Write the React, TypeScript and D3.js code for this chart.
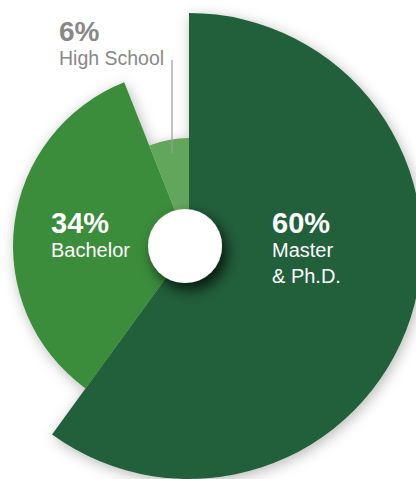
import React from "react";
import * as d3 from "d3";

const categories = ["Master & Ph.D.", "Bachelor", "High School"];
const values = [60, 34, 6];
const percentLabels = ["60%", "34%", "6%"];
const nameLines = [["Master", "& Ph.D."], ["Bachelor"], ["High School"]];

const W = 416;
const H = 479;
const CX = 189;
const CY = 246;
const OUTER = [233, 176, 108];
const COLORS = ["#225e3b", "#3a8c3a", "#62a65b"];

export default function App() {
  const pie = d3
    .pie<number>()
    .sort(null)
    .startAngle(0)
    .endAngle(2 * Math.PI)
    .value((d) => d);
  const arcs = pie(values);
  const arcGen = d3.arc<d3.PieArcDatum<number>>().innerRadius(0);

  const font = "'Liberation Sans', Arial, sans-serif";

  return (
    <svg
      width={W}
      height={H}
      style={{ position: "absolute", left: 0, top: 0, background: "#fff" }}
    >
      <defs>
        <filter id="sliceShadow" x="-20%" y="-20%" width="140%" height="140%">
          <feDropShadow dx="2" dy="3" stdDeviation="7" floodColor="#000" floodOpacity="0.28" />
        </filter>
        <filter id="holeShadow" x="-60%" y="-60%" width="220%" height="220%">
          <feDropShadow dx="5" dy="7" stdDeviation="7" floodColor="#000" floodOpacity="0.75" />
        </filter>
      </defs>
      <g transform={`translate(${CX},${CY})`} filter="url(#sliceShadow)">
        {arcs.map((a, i) => (
          <path
            key={categories[i]}
            d={arcGen.outerRadius(OUTER[i])(a) || ""}
            fill={COLORS[i]}
          />
        ))}
      </g>
      <circle cx={185} cy={246} r={37} fill="#fff" filter="url(#holeShadow)" />

      {/* High School leader line */}
      <line x1={172} y1={60} x2={172} y2={153} stroke="#9a9a9a" strokeWidth={1.2} />

      {/* High School label */}
      <text x={59} y={40.5} fontFamily={font} fontWeight="bold" fontSize={28} fill="#888888">
        {percentLabels[2]}
      </text>
      <text x={59} y={65} fontFamily={font} fontSize={19.5} fill="#888888">
        {nameLines[2][0]}
      </text>

      {/* Bachelor label */}
      <text x={51} y={233.3} fontFamily={font} fontWeight="bold" fontSize={29} fill="#fff">
        {percentLabels[1]}
      </text>
      <text x={51} y={256.7} fontFamily={font} fontSize={20} fill="#fff">
        {nameLines[1][0]}
      </text>

      {/* Master label */}
      <text x={272} y={233.3} fontFamily={font} fontWeight="bold" fontSize={29} fill="#fff">
        {percentLabels[0]}
      </text>
      {nameLines[0].map((t, k) => (
        <text key={t} x={272} y={256.7 + k * 26.6} fontFamily={font} fontSize={20} fill="#fff">
          {t}
        </text>
      ))}
    </svg>
  );
}
